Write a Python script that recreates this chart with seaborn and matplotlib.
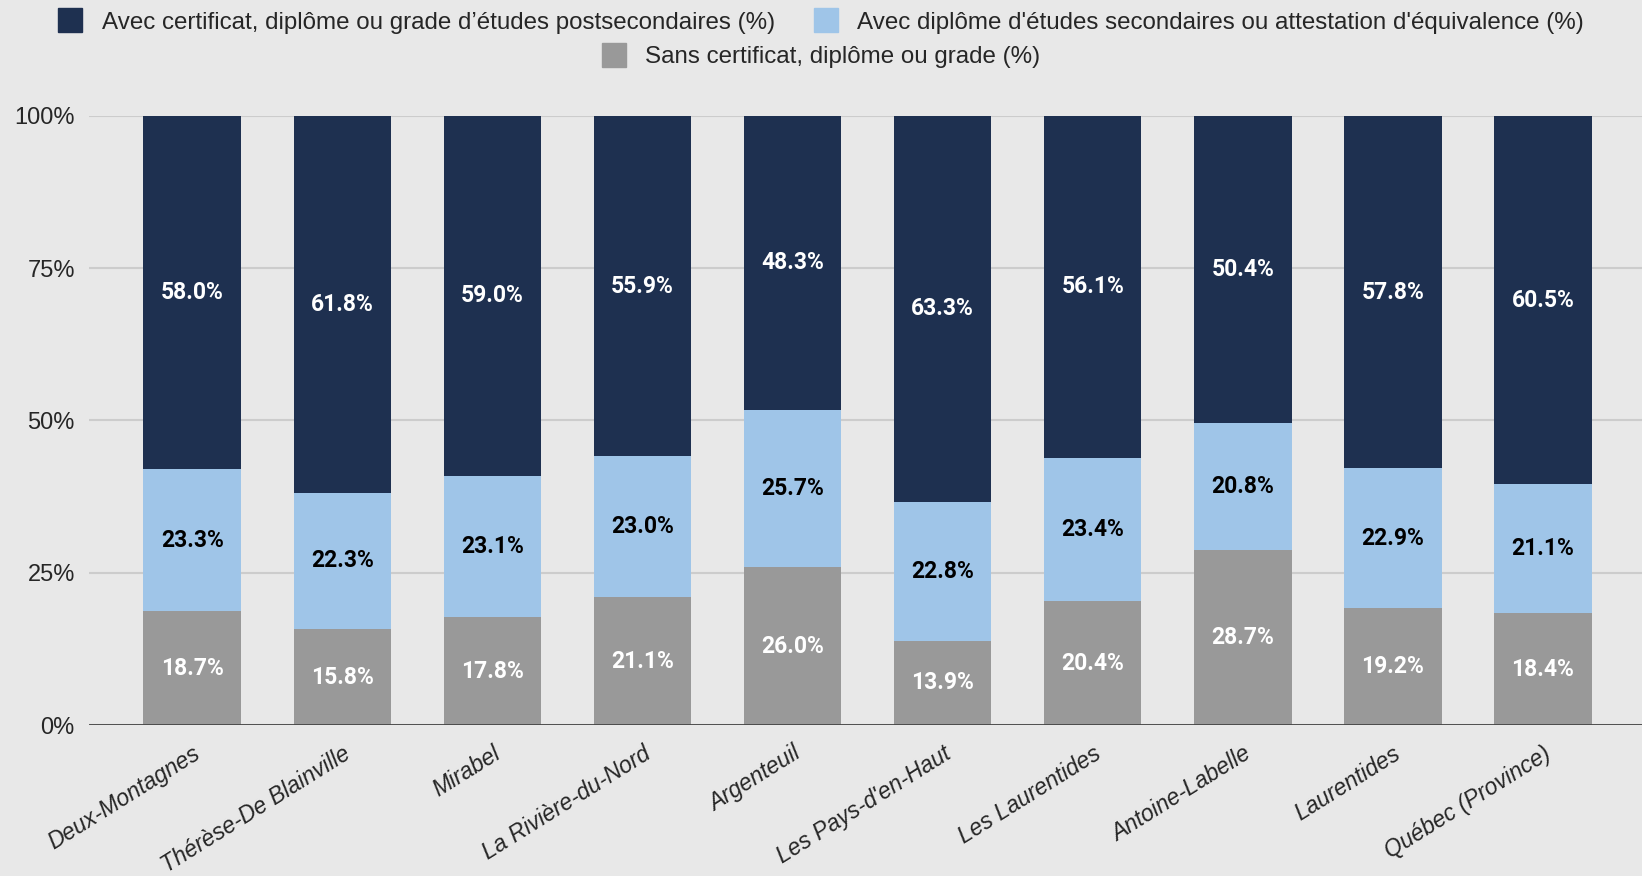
import numpy as np
import pandas as pd
import matplotlib
matplotlib.use("Agg")
import matplotlib.pyplot as plt
import matplotlib.patches as mpatches
import seaborn as sns

# ── Data ─────────────────────────────────────────────────────
regions = ["Deux-Montagnes", "Thérèse-De Blainville", "Mirabel", "La Rivière-du-Nord",
           "Argenteuil", "Les Pays-d'en-Haut", "Les Laurentides", "Antoine-Labelle",
           "Laurentides", "Québec (Province)"]
postsec = [58.0, 61.8, 59.0, 55.9, 48.3, 63.3, 56.1, 50.4, 57.8, 60.5]
second = [23.3, 22.3, 23.1, 23.0, 25.7, 22.8, 23.4, 20.8, 22.9, 21.1]
sans = [18.7, 15.8, 17.8, 21.1, 26.0, 13.9, 20.4, 28.7, 19.2, 18.4]

series_names = ["Avec certificat, diplôme ou grade d’études postsecondaires (%)",
                "Avec diplôme d'études secondaires ou attestation d'équivalence (%)",
                "Sans certificat, diplôme ou grade (%)"]

# ── Style ─────────────────────────────────────────────────────
NAVY = "#1e3050"
LIGHT = "#9fc5e8"
GRAY = "#999999"
BG = "#e8e8e8"

sns.set_style("white")
plt.rcParams.update({
    "figure.facecolor": BG,
    "axes.facecolor": BG,
    "font.family": ["Liberation Sans", "DejaVu Sans"],
    "font.size": 14,
})

df = pd.DataFrame({"region": regions, "post": postsec, "sec": second, "sans": sans})
tot = df[["post", "sec", "sans"]].sum(axis=1)
df["sans_n"] = df["sans"] / tot * 100
df["mid_n"] = (df["sans"] + df["sec"]) / tot * 100
df["top_n"] = 100.0

fig, ax = plt.subplots(figsize=(16.42, 8.76), dpi=100)
fig.subplots_adjust(left=0.054, right=1.0, top=0.868, bottom=0.172)

for col, color in [("top_n", NAVY), ("mid_n", LIGHT), ("sans_n", GRAY)]:
    sns.barplot(data=df, x="region", y=col, color=color, saturation=1,
                width=0.65, ax=ax, zorder=3, linewidth=0, edgecolor="none")

# value labels
lab_font = ["Roboto", "Liberation Sans"]
for i, row in df.iterrows():
    ax.text(i, row["sans_n"] / 2, f"{row['sans']:.1f}%", ha="center", va="center",
            color="white", fontweight="bold", fontsize=16.5, family=lab_font, zorder=4)
    ax.text(i, (row["sans_n"] + row["mid_n"]) / 2, f"{row['sec']:.1f}%", ha="center",
            va="center", color="black", fontweight="bold", fontsize=16.5,
            family=lab_font, zorder=4)
    ax.text(i, (row["mid_n"] + 100) / 2, f"{row['post']:.1f}%", ha="center",
            va="center", color="white", fontweight="bold", fontsize=16.5,
            family=lab_font, zorder=4)

ax.set_xlim(-0.69, 9.66)
ax.set_ylim(0, 100)
ax.set_yticks([0, 25, 50, 75, 100])
ax.set_yticklabels(["0%", "25%", "50%", "75%", "100%"], fontsize=17)
ax.yaxis.grid(True, color="#cccccc", linewidth=1.5, zorder=0)
ax.axhline(0, color="#444444", linewidth=2, zorder=5)
for s in ax.spines.values():
    s.set_visible(False)
ax.tick_params(axis="y", length=0, pad=10)
ax.tick_params(axis="x", length=0, pad=12)
ax.set_xlabel("")
ax.set_ylabel("")
ax.set_xticks(range(len(regions)))
ax.set_xticklabels(regions, rotation=32, ha="right", rotation_mode="anchor",
                   fontstyle="italic", fontsize=16.5)

# legend: two rows, centred
leg_font = {"family": ["Liberation Sans", "DejaVu Sans"], "size": 17.4}
h = [mpatches.Patch(color=c) for c in (NAVY, LIGHT, GRAY)]
leg1 = fig.legend(h[:2], series_names[:2], loc="center", bbox_to_anchor=(0.5, 0.976),
                  ncol=2, frameon=False, prop=leg_font, handlelength=1.0, handleheight=1.15,
                  columnspacing=1.6, handletextpad=0.8)
leg2 = fig.legend(h[2:], series_names[2:], loc="center", bbox_to_anchor=(0.5, 0.937),
                  ncol=1, frameon=False, prop=leg_font, handlelength=1.0, handleheight=1.15,
                  handletextpad=0.8)

plt.savefig("out.png", dpi=100, facecolor=BG)
plt.close()
